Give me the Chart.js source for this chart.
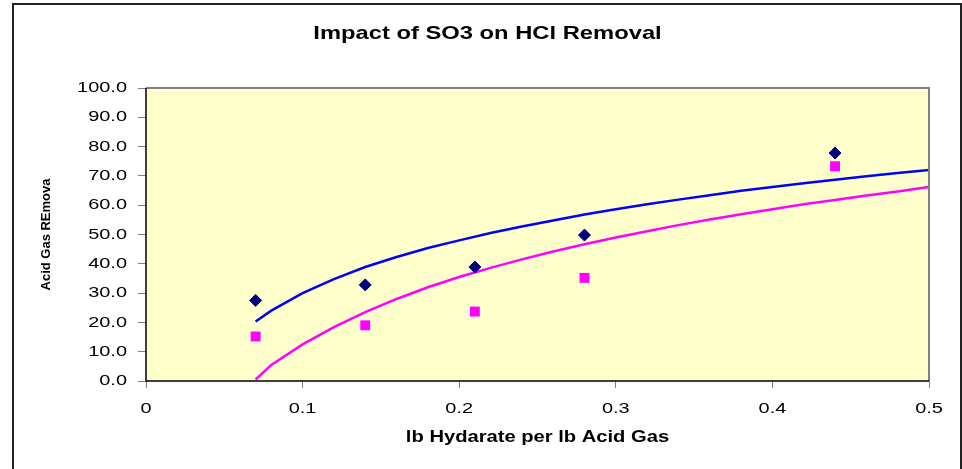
<!DOCTYPE html>
<html>
<head>
<meta charset="utf-8">
<script src="https://cdn.jsdelivr.net/npm/chart.js@4/dist/chart.umd.min.js"></script>
<style>
html,body{margin:0;padding:0;background:#fff;}
canvas{display:block;}
</style>
</head>
<body>
<canvas id="c" width="962" height="469"></canvas>
<script>
// ---- data ----
const chartTitle = "Impact of SO3 on HCl Removal";
const xTitle = "lb Hydarate per lb Acid Gas";
const yTitle = "Acid Gas REmova";

// measured points
const measuredX = [0.07, 0.14, 0.21, 0.28, 0.44];
const diamondY  = [27.5, 32.8, 38.9, 49.8, 77.8];
const squareY   = [15.2, 19.0, 23.7, 35.2, 73.3];

// fitted curves
const curveX    = [0.07, 0.08, 0.10, 0.12, 0.14, 0.16, 0.18, 0.20, 0.22, 0.24, 0.26, 0.28, 0.30, 0.32, 0.34, 0.36, 0.38, 0.40, 0.42, 0.44, 0.46, 0.48, 0.50];
const blueCurve = [20.3, 24.0, 30.0, 34.8, 38.9, 42.3, 45.4, 48.0, 50.5, 52.7, 54.8, 56.8, 58.6, 60.3, 61.9, 63.4, 64.9, 66.2, 67.5, 68.7, 69.9, 71.0, 72.0];
const pinkCurve = [0.5, 5.5, 12.5, 18.4, 23.5, 28.0, 32.0, 35.5, 38.6, 41.5, 44.2, 46.7, 49.0, 51.1, 53.2, 55.1, 56.9, 58.6, 60.3, 61.8, 63.3, 64.7, 66.2];

const xTicks = [0, 0.1, 0.2, 0.3, 0.4, 0.5];
const yTicks = [0, 10, 20, 30, 40, 50, 60, 70, 80, 90, 100];

const pts = (xs, ys) => xs.map((x, i) => ({x: x, y: ys[i]}));

const FONT = "'Liberation Sans', Arial, sans-serif";

// the reference text is horizontally stretched: widen glyphs around the text anchor
const _fillText = CanvasRenderingContext2D.prototype.fillText;
CanvasRenderingContext2D.prototype.fillText = function (t, x, y, mw) {
  const f = this.font || '';
  let sx = 1;
  if (/19px/.test(f)) sx = 1.25;
  else if (/16px/.test(f)) sx = 1.26;
  else if (/15px/.test(f)) sx = 1.33;
  if (sx === 1) {
    if (mw === undefined) return _fillText.call(this, t, x, y);
    return _fillText.call(this, t, x, y, mw);
  }
  this.save();
  this.translate(x, y);
  this.scale(sx, 1);
  _fillText.call(this, t, 0, 0);
  this.restore();
};

const framePlugin = {
  id: 'frame',
  beforeDraw(chart) {
    const {ctx, chartArea: a} = chart;
    ctx.save();
    ctx.fillStyle = '#fff';
    ctx.fillRect(0, 0, chart.width, chart.height);
    ctx.fillStyle = '#FFFFCC';
    ctx.fillRect(a.left, a.top, a.right - a.left, a.bottom - a.top);
    ctx.restore();
  },
  afterDraw(chart) {
    const {ctx, chartArea: a} = chart;
    ctx.save();
    ctx.strokeStyle = '#808080';
    ctx.lineWidth = 2;
    ctx.beginPath();
    ctx.moveTo(a.left, a.top);
    ctx.lineTo(a.right, a.top);
    ctx.lineTo(a.right, a.bottom);
    ctx.stroke();
    ctx.strokeStyle = '#000';
    ctx.lineWidth = 1.5;
    ctx.beginPath();
    ctx.moveTo(a.left, a.top);
    ctx.lineTo(a.left, a.bottom);
    ctx.lineTo(a.right, a.bottom);
    ctx.stroke();
    ctx.strokeStyle = '#222';
    ctx.lineWidth = 2;
    ctx.beginPath();
    ctx.moveTo(13, chart.height + 5);
    ctx.lineTo(13, 4);
    ctx.lineTo(961, 4);
    ctx.lineTo(961, chart.height + 5);
    ctx.stroke();
    ctx.restore();
  }
};

new Chart(document.getElementById('c'), {
  type: 'scatter',
  data: {
    datasets: [
      {
        label: 'measured A',
        data: pts(measuredX, diamondY),
        pointStyle: 'rectRot',
        pointRadius: 6,
        pointBackgroundColor: '#000080',
        pointBorderColor: '#000080',
        pointBorderWidth: 1,
        showLine: false,
        order: 0
      },
      {
        label: 'measured B',
        data: pts(measuredX, squareY),
        pointStyle: 'rect',
        pointRadius: 7,
        pointBackgroundColor: '#FF00FF',
        pointBorderColor: '#FF00FF',
        pointBorderWidth: 0,
        showLine: false,
        order: 0
      },
      {
        label: 'fit A',
        data: pts(curveX, blueCurve),
        showLine: true,
        borderColor: '#0000FF',
        borderWidth: 2.5,
        pointRadius: 0,
        tension: 0,
        order: 1
      },
      {
        label: 'fit B',
        data: pts(curveX, pinkCurve),
        showLine: true,
        borderColor: '#FF00FF',
        borderWidth: 2.5,
        pointRadius: 0,
        tension: 0,
        order: 1
      }
    ]
  },
  options: {
    responsive: false,
    animation: false,
    devicePixelRatio: 1,
    layout: { padding: { left: 13, right: 0, top: 0, bottom: 0 } },
    plugins: {
      legend: { display: false },
      tooltip: { enabled: false },
      title: {
        display: true,
        text: chartTitle,
        color: '#000',
        font: { family: FONT, size: 19, weight: 'bold', lineHeight: '22px' },
        padding: { top: 23, bottom: 43 }
      }
    },
    scales: {
      x: {
        type: 'linear',
        min: 0, max: 0.5,
        afterBuildTicks(s) { s.ticks = xTicks.map(v => ({value: v})); },
        afterFit(s) { s.height = 88; },
        grid: { display: true, drawOnChartArea: false, drawTicks: true, tickLength: 7, color: '#808080', lineWidth: 1 },
        border: { display: false },
        ticks: {
          color: '#000',
          font: { family: FONT, size: 15 },
          padding: 12,
          maxRotation: 0,
          callback: v => String(v)
        },
        title: {
          display: true,
          text: xTitle,
          color: '#000',
          font: { family: FONT, size: 16, weight: 'bold', lineHeight: 1.2 },
          padding: { top: 0, bottom: 22 }
        }
      },
      y: {
        type: 'linear',
        min: 0, max: 100,
        afterBuildTicks(s) { s.ticks = yTicks.map(v => ({value: v})); },
        afterFit(s) { s.width = 133; },
        grid: { display: true, drawOnChartArea: false, drawTicks: true, tickLength: 8, color: '#808080', lineWidth: 1 },
        border: { display: false },
        ticks: {
          color: '#000',
          font: { family: FONT, size: 15 },
          padding: 11,
          callback: v => Number(v).toFixed(1)
        },
        title: {
          display: true,
          text: yTitle,
          color: '#000',
          font: { family: FONT, size: 13, weight: 'bold', lineHeight: 1.2 },
          padding: { top: 26, bottom: 0 }
        }
      },
      y2: {
        type: 'linear',
        position: 'right',
        display: true,
        afterFit(s) { s.width = 33; },
        grid: { display: false },
        border: { display: false },
        ticks: { display: false }
      }
    }
  },
  plugins: [framePlugin]
});
</script>
</body>
</html>
